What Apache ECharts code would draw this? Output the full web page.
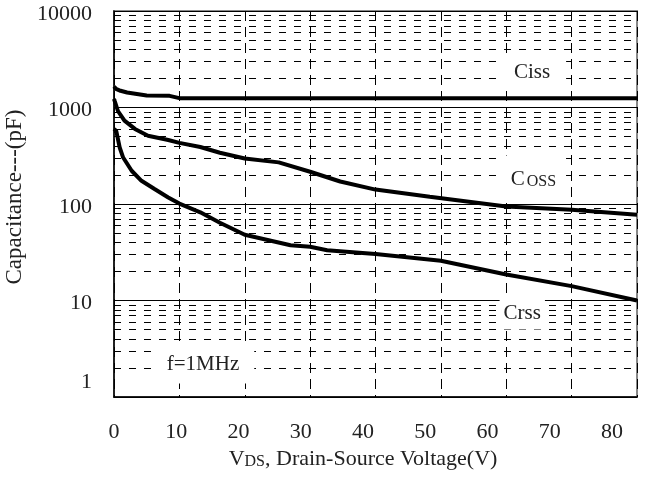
<!DOCTYPE html>
<html>
<head>
<meta charset="utf-8">
<script src="https://cdn.jsdelivr.net/npm/echarts@6/dist/echarts.min.js"></script>
<style>html,body{margin:0;padding:0;background:#fff}#c{width:651px;height:479px}</style>
</head>
<body>
<div id="c"></div>
<script>
// ---- data ----
var cissV = [0, 0.3, 1, 2, 5, 8.5, 10, 80];
var cissC = [1650, 1560, 1490, 1430, 1330, 1320, 1250, 1250];
var cossV = [0, 0.1, 0.6, 1.6, 3.2, 5.2, 8.3, 10, 13.2, 16.2, 20, 25.2, 30, 34.6, 40, 48.3, 60, 70, 80];
var cossC = [1230, 1170, 920, 730, 600, 510, 460, 430, 390, 340, 296, 270, 216, 171, 141, 119, 94, 87, 77.5];
var crssV = [0, 0.35, 0.87, 1.4, 2.7, 4.2, 6.2, 8.3, 10, 13.2, 16.2, 20, 27, 30, 32.6, 40, 50, 60, 70, 80];
var crssC = [600, 570, 385, 303, 221, 174, 143, 117, 101, 82, 64, 48, 37.4, 36, 33.2, 30.3, 25.8, 18.6, 14.1, 10];
var xTicks = [0, 10, 20, 30, 40, 50, 60, 70, 80];
var yTicks = [1, 10, 100, 1000, 10000];
var minorMultipliers = [2, 3, 4, 5, 6, 7, 8, 9];
var annotationText = ['Ciss', 'Coss', 'Crss', 'f=1MHz'];
var annotationAt = [[64.4, 2305], [64.3, 188], [62.45, 7.25], [13.61, 2.15]];

var FONT = "'Liberation Serif','Times New Roman',serif";
var FS = 22;

function pairs(xs, ys) { return xs.map(function (x, i) { return [x, ys[i]]; }); }

var minorLines = [];
for (var d = 0; d < yTicks.length - 1; d++) {
  minorMultipliers.forEach(function (m) { minorLines.push({ yAxis: m * yTicks[d] }); });
}

var curveStyle = { color: '#000', width: 4 };
function curve(name, xs, ys) {
  return { name: name, type: 'line', data: pairs(xs, ys), showSymbol: false, symbol: 'none',
    lineStyle: curveStyle, z: 5, silent: true };
}

var boxPads = [[7, 16, 7, 10], [10, 10, 10, 8], [5, 4, 5, 4], [8, 15, 8, 15]];
var markData = annotationText.map(function (t, i) {
  var fmt = t;
  if (t === 'Coss') fmt = '{c|C}{s|OSS}';
  return {
    coord: annotationAt[i],
    symbol: 'circle', symbolSize: 1, itemStyle: { color: 'rgba(0,0,0,0)' },
    label: {
      show: true, position: 'inside', formatter: fmt, color: '#222',
      fontFamily: FONT, fontSize: 21, backgroundColor: '#fff', padding: boxPads[i],
      rich: {
        c: { fontFamily: FONT, fontSize: 21, color: '#222', verticalAlign: 'bottom', lineHeight: 24 },
        s: { fontFamily: FONT, fontSize: 16, color: '#222', verticalAlign: 'bottom', lineHeight: 16, padding: [0, 0, 0, 2] }
      }
    }
  };
});

var chart = echarts.init(document.getElementById('c'), null, { renderer: 'canvas' });
chart.setOption({
  animation: false,
  backgroundColor: '#fff',
  grid: { left: 114, right: 14, top: 11, bottom: 82, show: true, borderColor: '#888', borderWidth: 2,
    containLabel: false, outerBoundsMode: 'none' },
  xAxis: [
    {
      type: 'value', min: xTicks[0], max: xTicks[xTicks.length - 1], interval: 10,
      axisLine: { show: true, onZero: false, lineStyle: { color: '#000', width: 1.5 } },
      axisTick: { show: false }, axisLabel: { show: false },
      splitLine: { show: true, lineStyle: { color: '#000', width: 1, type: [10, 6] } }
    },
    {
      type: 'value', min: 0, max: 84, interval: 10, position: 'bottom',
      axisLine: { show: false }, axisTick: { show: false }, splitLine: { show: false },
      axisLabel: {
        show: true, margin: 24, color: '#222', fontFamily: FONT, fontSize: FS, showMaxLabel: false,
        formatter: function (v) { return xTicks.indexOf(v) >= 0 ? String(v) : ''; }
      },
      name: '{a|V}{b|DS}{a|, Drain-Source Voltage(V)}', nameLocation: 'middle', nameGap: 40,
      nameTextStyle: {
        padding: [0, 25, 0, 0],
        rich: {
          a: { fontFamily: FONT, fontSize: FS, color: '#222', verticalAlign: 'bottom', lineHeight: 22 },
          b: { fontFamily: FONT, fontSize: 16, color: '#222', verticalAlign: 'bottom', lineHeight: 19 }
        }
      }
    }
  ],
  yAxis: {
    type: 'log', logBase: 10, min: yTicks[0], max: yTicks[yTicks.length - 1],
    axisLine: { show: true, lineStyle: { color: '#000', width: 1.5 } },
    axisTick: { show: false },
    axisLabel: {
      margin: 22, color: '#222', fontFamily: FONT, fontSize: FS,
      formatter: function (v) { return v === 1 ? '{lo|1}' : '{n|' + v + '}'; },
      rich: {
        lo: { fontFamily: FONT, fontSize: FS, color: '#222', padding: [0, 0, 30, 0] },
        n: { fontFamily: FONT, fontSize: FS, color: '#222', padding: [6, 0, 0, 0] }
      }
    },
    splitLine: { show: true, lineStyle: { color: '#000', width: 1 } },
    name: 'Capacitance---(pF)', nameLocation: 'middle', nameGap: 86, nameRotate: 90,
    nameTextStyle: { fontFamily: FONT, fontSize: 23, color: '#222', padding: [0, 0, 0, 14], align: 'center' }
  },
  series: [
    {
      name: 'minor grid', type: 'line', data: [], z: 1, silent: true,
      markLine: {
        silent: true, symbol: ['none', 'none'], label: { show: false },
        lineStyle: { color: '#000', width: 1, type: [7, 8] },
        emphasis: { disabled: true },
        data: minorLines
      }
    },
    curve('Ciss', cissV, cissC),
    curve('Coss', cossV, cossC),
    curve('Crss', crssV, crssC),
    {
      name: 'labels', type: 'scatter', data: [], z: 10, silent: true,
      markPoint: { silent: true, data: markData }
    }
  ]
});
</script>
</body>
</html>
